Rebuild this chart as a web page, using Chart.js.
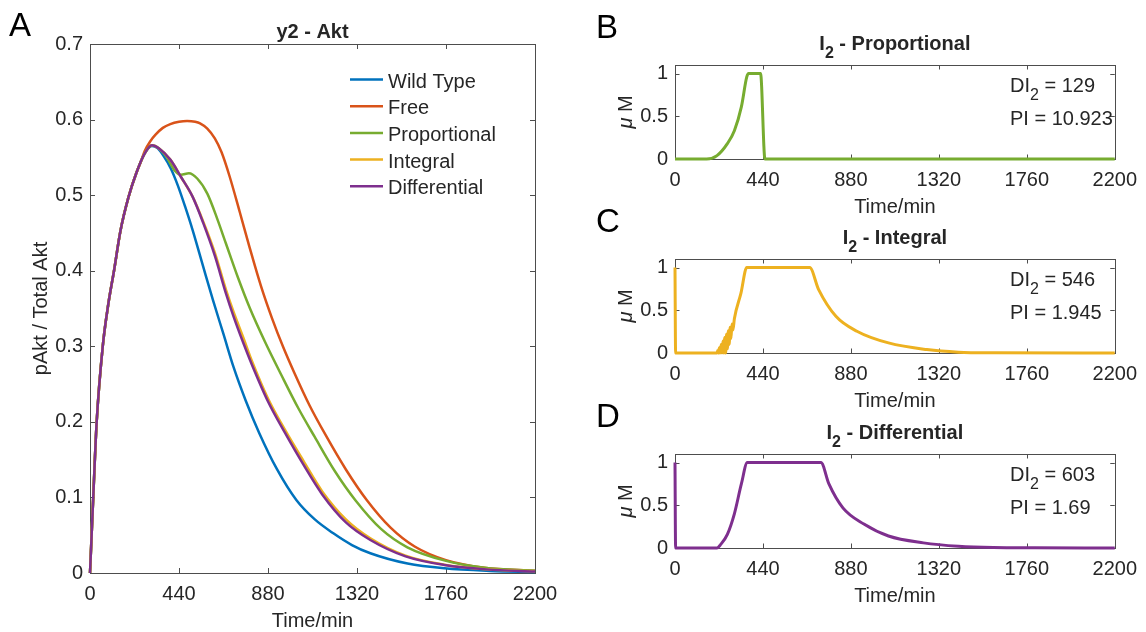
<!DOCTYPE html>
<html>
<head>
<meta charset="utf-8">
<title>y2 - Akt</title>
<script src="https://cdn.jsdelivr.net/npm/chart.js@4.4.0/dist/chart.umd.min.js"></script>
<style>
  body { margin: 0; background: #fff; }
  #fig { position: relative; width: 1146px; height: 632px; overflow: hidden; background: #fff; }
  #fig canvas { position: absolute; }
</style>
</head>
<body>
<div id="fig">
  <canvas id="grafA" width="580" height="632" style="left:0;top:0;width:580px;height:632px"></canvas>
  <canvas id="grafB" width="556" height="232" style="left:590px;top:0;width:556px;height:232px"></canvas>
  <canvas id="grafC" width="556" height="232" style="left:590px;top:194px;width:556px;height:232px"></canvas>
  <canvas id="grafD" width="556" height="232" style="left:590px;top:389px;width:556px;height:232px"></canvas>
</div>
<script>
// ticks
var timeTicks = [0, 440, 880, 1320, 1760, 2200];
var aktTicks = [0, 0.1, 0.2, 0.3, 0.4, 0.5, 0.6, 0.7];
var umTicks = [0, 0.5, 1];

// y2 - Akt, pAkt / Total Akt
var seriesNames = ['Wild Type', 'Free', 'Proportional', 'Integral', 'Differential'];
var seriesColors = ['#0072BD', '#D95319', '#77AC30', '#EDB120', '#7E2F8E'];

var tWildType = [0, 8, 16, 33, 63, 90, 120, 150, 190, 230, 270, 306, 335, 361, 400, 434, 470, 507, 560, 608, 660, 709, 770, 837, 925, 1020, 1110, 1203, 1295, 1386, 1570, 1752, 1976, 2200];
var wildType = [0, 0.05, 0.1, 0.2, 0.3, 0.355, 0.402, 0.452, 0.497, 0.53, 0.555, 0.565, 0.562, 0.553, 0.535, 0.513, 0.485, 0.454, 0.405, 0.361, 0.316, 0.273, 0.228, 0.185, 0.137, 0.0966, 0.0712, 0.0525, 0.037, 0.0261, 0.0125, 0.0062, 0.0028, 0.0013];

var tFree = [0, 8, 16, 33, 63, 90, 120, 150, 190, 230, 250, 270, 300, 324, 360, 397, 440, 480, 520, 544, 580, 617, 650, 690, 740, 790, 845, 900, 955, 1010, 1085, 1166, 1265, 1368, 1486, 1605, 1760, 1950, 2200];
var free = [0, 0.05, 0.1, 0.2, 0.3, 0.355, 0.402, 0.452, 0.497, 0.53, 0.543, 0.558, 0.572, 0.58, 0.589, 0.594, 0.597, 0.598, 0.597, 0.595, 0.588, 0.575, 0.557, 0.525, 0.478, 0.43, 0.38, 0.337, 0.299, 0.265, 0.222, 0.182, 0.137, 0.0966, 0.06, 0.035, 0.017, 0.007, 0.003];

var tProportional = [0, 8, 16, 33, 63, 90, 120, 150, 190, 230, 270, 306, 340, 380, 420, 450, 489, 530, 580, 630, 672, 730, 791, 865, 946, 1030, 1111, 1210, 1313, 1440, 1569, 1760, 1950, 2200];
var proportional = [0, 0.05, 0.1, 0.2, 0.3, 0.355, 0.402, 0.452, 0.497, 0.53, 0.555, 0.566, 0.562, 0.55, 0.532, 0.527, 0.529, 0.522, 0.502, 0.468, 0.436, 0.392, 0.35, 0.306, 0.262, 0.218, 0.18, 0.135, 0.096, 0.058, 0.034, 0.016, 0.007, 0.003];

var tIntegral = [0, 8, 16, 33, 63, 90, 120, 150, 190, 230, 270, 306, 340, 397, 450, 507, 560, 617, 672, 709, 760, 800, 880, 965, 1056, 1148, 1265, 1386, 1560, 1752, 1960, 2200];
var integral = [0, 0.05, 0.1, 0.2, 0.3, 0.355, 0.402, 0.452, 0.497, 0.53, 0.555, 0.566, 0.562, 0.547, 0.524, 0.498, 0.465, 0.424, 0.375, 0.346, 0.31, 0.281, 0.231, 0.189, 0.148, 0.108, 0.071, 0.046, 0.023, 0.011, 0.005, 0.002];

var tDifferential = [0, 8, 16, 33, 63, 90, 120, 150, 190, 230, 270, 306, 340, 397, 450, 507, 560, 617, 672, 709, 760, 800, 880, 965, 1056, 1148, 1265, 1386, 1560, 1752, 1960, 2200];
var differential = [0, 0.05, 0.1, 0.2, 0.3, 0.355, 0.402, 0.452, 0.497, 0.53, 0.555, 0.566, 0.562, 0.547, 0.524, 0.498, 0.463, 0.42, 0.37, 0.34, 0.303, 0.276, 0.227, 0.185, 0.143, 0.104, 0.067, 0.0437, 0.022, 0.0106, 0.0048, 0.002];

// I2 per controlador (uM)
var tI2Prop = [0, 100, 158, 210, 262, 297, 332, 359, 368, 428, 450, 500, 2200];
var i2Prop = [0, 0, 0, 0.04, 0.18, 0.33, 0.61, 0.96, 1, 1, 0, 0, 0];

var tI2Int = [0, 3, 210, 214, 217, 222, 226, 231, 235, 240, 244, 249, 253, 258, 262, 267, 271, 276, 280, 285, 290, 297, 330, 359, 674, 718, 805, 910, 1068, 1260, 1418, 1600, 2200];
var i2Int = [1, 0, 0, 0.03, 0, 0.06, 0, 0.1, 0, 0.14, 0, 0.18, 0, 0.22, 0.05, 0.26, 0.1, 0.3, 0.17, 0.34, 0.27, 0.4, 0.7, 1, 1, 0.745, 0.43, 0.255, 0.118, 0.04, 0.01, 0.003, 0];

var tI2Diff = [0, 3, 210, 228, 262, 297, 332, 362, 730, 770, 840, 945, 1068, 1243, 1418, 1593, 1800, 2200];
var i2Diff = [1, 0, 0, 0.04, 0.16, 0.4, 0.75, 1, 1, 0.75, 0.47, 0.28, 0.14, 0.06, 0.02, 0.005, 0.002, 0];

var FONT = '"Liberation Sans", Arial, Helvetica, sans-serif';
var TEXT = '#262626';

window.onload = function () {

    function punts(t, v) {
        return t.map(function (x, i) { return { x: x, y: v[i] }; });
    }

    // text with _x subscripts, like TeX
    function tex(s) {
        var out = [], buf = '';
        for (var i = 0; i < s.length; i++) {
            if (s[i] === '_') {
                if (buf) out.push({ s: buf });
                buf = '';
                out.push({ s: s[i + 1], sub: true });
                i++;
            } else {
                buf += s[i];
            }
        }
        if (buf) out.push({ s: buf });
        return out;
    }

    function escriu(ctx, parts, x, y, size, weight, align) {
        var font = function (p) {
            return (p.it ? 'italic ' : '') + weight + ' ' + (p.sub ? Math.round(size * 0.8) : size) + 'px ' + FONT;
        };
        var w = 0;
        parts.forEach(function (p) { ctx.font = font(p); p.w = ctx.measureText(p.s).width; w += p.w; });
        var cx = align === 'center' ? x - w / 2 : (align === 'right' ? x - w : x);
        ctx.textAlign = 'left';
        ctx.textBaseline = 'alphabetic';
        parts.forEach(function (p) {
            ctx.font = font(p);
            ctx.fillText(p.s, cx, p.sub ? y + size * 0.38 : y);
            cx += p.w;
        });
    }

    // box and inward ticks (under the lines), then the texts
    var eixosMatlab = {
        id: 'eixosMatlab',
        beforeDatasetsDraw: function (chart, args, o) {
            var ctx = chart.ctx, a = chart.chartArea, sx = chart.scales.x, sy = chart.scales.y;
            ctx.save();
            ctx.strokeStyle = '#4d4d4d';
            ctx.lineWidth = 1;
            ctx.strokeRect(Math.round(a.left) + 0.5, Math.round(a.top) + 0.5, Math.round(a.right - a.left), Math.round(a.bottom - a.top));
            ctx.beginPath();
            sx.ticks.forEach(function (t) {
                var p = Math.round(sx.getPixelForValue(t.value)) + 0.5;
                ctx.moveTo(p, a.bottom); ctx.lineTo(p, a.bottom - o.tick);
                ctx.moveTo(p, a.top); ctx.lineTo(p, a.top + o.tick);
            });
            sy.ticks.forEach(function (t) {
                var p = Math.round(sy.getPixelForValue(t.value)) + 0.5;
                ctx.moveTo(a.left, p); ctx.lineTo(a.left + o.tick, p);
                ctx.moveTo(a.right, p); ctx.lineTo(a.right - o.tick, p);
            });
            ctx.stroke();
            ctx.restore();
        },
        afterDraw: function (chart, args, o) {
            var ctx = chart.ctx, a = chart.chartArea;
            var mig = (a.left + a.right) / 2;
            ctx.save();
            ctx.fillStyle = TEXT;
            escriu(ctx, tex(o.title), mig, a.top - o.titleGap, 20, 'bold', 'center');
            escriu(ctx, [{ s: 'Time/min' }], mig, a.bottom + 54, 20, 'normal', 'center');

            ctx.save();
            ctx.translate(a.left - 43, (a.top + a.bottom) / 2);
            ctx.rotate(-Math.PI / 2);
            escriu(ctx, o.ylabel, 0, 0, 20, 'normal', 'center');
            ctx.restore();

            ctx.font = '33px ' + FONT;
            ctx.fillStyle = '#000';
            ctx.fillText(o.lletra.s, o.lletra.x, o.lletra.y);
            ctx.fillStyle = TEXT;

            (o.notes || []).forEach(function (n) {
                escriu(ctx, tex(n.s), n.x, a.top + n.dy, 20, 'normal', 'left');
            });

            if (o.llegenda) {
                chart.data.datasets.forEach(function (d, i) {
                    var y = 79.5 + i * 26.7;
                    ctx.strokeStyle = d.borderColor;
                    ctx.lineWidth = 2.5;
                    ctx.beginPath();
                    ctx.moveTo(350, y); ctx.lineTo(383, y);
                    ctx.stroke();
                    escriu(ctx, [{ s: d.label }], 388, y + 8, 20, 'normal', 'left');
                });
            }
            ctx.restore();
        }
    };

    function opcions(cfg) {
        return {
            responsive: false,
            devicePixelRatio: 1,
            animation: false,
            layout: { padding: { top: cfg.top, right: cfg.right, left: 0, bottom: 0 } },
            elements: {
                point: { radius: 0 },
                line: { borderWidth: cfg.lw, cubicInterpolationMode: 'monotone' }
            },
            plugins: {
                legend: { display: false },
                tooltip: { enabled: false },
                eixosMatlab: cfg.text
            },
            scales: {
                x: {
                    type: 'linear', min: 0, max: 2200,
                    grid: { display: false, drawTicks: false }, border: { display: false },
                    afterBuildTicks: function (s) { s.ticks = timeTicks.map(function (v) { return { value: v }; }); },
                    afterFit: function (s) { s.height = cfg.xh; },
                    ticks: {
                        font: { family: FONT, size: 20 }, color: TEXT, padding: 9,
                        maxRotation: 0, autoSkip: false,
                        callback: function (v) { return String(v); }
                    }
                },
                y: {
                    type: 'linear', min: 0, max: cfg.ymax,
                    grid: { display: false, drawTicks: false }, border: { display: false },
                    afterBuildTicks: function (s) { s.ticks = cfg.yticks.map(function (v) { return { value: v }; }); },
                    afterFit: function (s) { s.width = cfg.yw; },
                    ticks: {
                        font: { family: FONT, size: 20 }, color: TEXT, padding: 7,
                        autoSkip: false,
                        callback: function (v) { return String(v); }
                    }
                }
            }
        };
    }

    // A: pAkt for the five cases
    var tA = [tWildType, tFree, tProportional, tIntegral, tDifferential];
    var vA = [wildType, free, proportional, integral, differential];
    new Chart(document.getElementById('grafA'), {
        type: 'line',
        data: {
            datasets: seriesNames.map(function (nom, i) {
                return {
                    label: nom,
                    data: punts(tA[i], vA[i]),
                    borderColor: seriesColors[i],
                    order: seriesNames.length - i,
                    clip: 6
                };
            })
        },
        options: opcions({
            top: 44, right: 45, xh: 59, yw: 90, lw: 2.5, ymax: 0.7, yticks: aktTicks,
            text: {
                tick: 5, title: 'y2 - Akt', titleGap: 6.5,
                ylabel: [{ s: 'pAkt / Total Akt' }],
                lletra: { s: 'A', x: 9, y: 36 },
                llegenda: true
            }
        }),
        plugins: [eixosMatlab]
    });

    // B, C, D: I2 for each controller
    var petits = [
        { id: 'grafB', t: tI2Prop, v: i2Prop, color: seriesColors[2], title: 'I_2 - Proportional', lletra: 'B', di: '129', pi: '10.923' },
        { id: 'grafC', t: tI2Int, v: i2Int, color: seriesColors[3], title: 'I_2 - Integral', lletra: 'C', di: '546', pi: '1.945' },
        { id: 'grafD', t: tI2Diff, v: i2Diff, color: seriesColors[4], title: 'I_2 - Differential', lletra: 'D', di: '603', pi: '1.69' }
    ];
    petits.forEach(function (p) {
        new Chart(document.getElementById(p.id), {
            type: 'line',
            data: {
                datasets: [{ label: p.title, data: punts(p.t, p.v), borderColor: p.color, clip: 6 }]
            },
            options: opcions({
                top: 65, right: 25, xh: 73, yw: 85, lw: 3, ymax: 1.1, yticks: umTicks,
                text: {
                    tick: 4.5, title: p.title, titleGap: 15,
                    ylabel: [{ s: 'μ', it: true }, { s: ' M' }],
                    lletra: { s: p.lletra, x: 6, y: 38 },
                    notes: [
                        { s: 'DI_2 = ' + p.di, x: 420, dy: 27 },
                        { s: 'PI = ' + p.pi, x: 420, dy: 60 }
                    ]
                }
            }),
            plugins: [eixosMatlab]
        });
    });
};
</script>
</body>
</html>
